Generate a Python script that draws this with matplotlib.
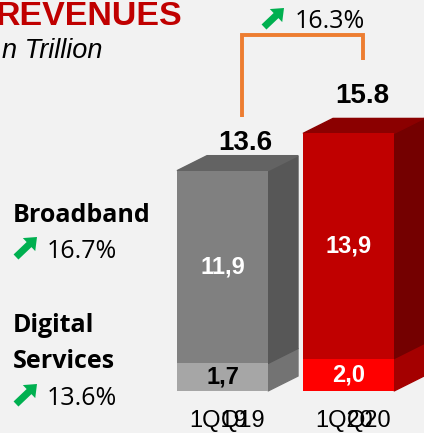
import matplotlib
matplotlib.use("Agg")
import matplotlib.pyplot as plt
import matplotlib.patches as mpatches

# --- data ---
periods = ["1Q19", "1Q20"]
digital = [1.7, 2.0]
broadband = [11.9, 13.9]
totals = ["13.6", "15.8"]
seg_labels_bottom = ["1,7", "2,0"]
seg_labels_top = ["11,9", "13,9"]
growth_total = "16.3%"
growth_broadband = "16.7%"
growth_digital = "13.6%"

BG = "#f2f2f2"
W, H = 424, 433
PX_PER_UNIT = 16.2
ZERO_PX = 391  # pixel row (from top) of value 0

fig = plt.figure(figsize=(W / 100, H / 100), dpi=100, facecolor=BG)

# value axes for the bars
ax = fig.add_axes([0, 0, 1, 1])
ax.set_facecolor(BG)
ax.set_xlim(0, W)
ax.set_ylim(-(H - ZERO_PX) / PX_PER_UNIT, ZERO_PX / PX_PER_UNIT)
ax.axis("off")

# pixel overlay for free text
ov = fig.add_axes([0, 0, 1, 1])
ov.set_xlim(0, W)
ov.set_ylim(H, 0)
ov.axis("off")
ov.patch.set_alpha(0)

centers = [222.5, 348.5]
width = 91
dx = 30
dy = 15 / PX_PER_UNIT

styles = [
    # front bottom, side bottom, front top, side top, top face, bottom label colour
    dict(fb="#a6a6a6", sb="#737373", ft="#808080", st="#575757", tp="#636363", lb="black"),
    dict(fb="#ff0000", sb="#a40000", ft="#c00000", st="#740000", tp="#8b0000", lb="white"),
]

for i, c in enumerate(centers):
    s = styles[i]
    xl, xr = c - width / 2, c + width / 2
    b0, b1 = 0, digital[i]
    t1 = digital[i] + broadband[i]
    ax.bar(c, digital[i], width=width, bottom=0, color=s["fb"], zorder=3)
    ax.bar(c, broadband[i], width=width, bottom=digital[i], color=s["ft"], zorder=3)
    # side faces
    ax.add_patch(mpatches.Polygon([(xr, b0), (xr + dx, b0 + dy), (xr + dx, b1 + dy), (xr, b1)],
                                  closed=True, color=s["sb"], zorder=2))
    ax.add_patch(mpatches.Polygon([(xr, b1), (xr + dx, b1 + dy), (xr + dx, t1 + dy), (xr, t1)],
                                  closed=True, color=s["st"], zorder=2))
    # top face
    ax.add_patch(mpatches.Polygon([(xl, t1), (xl + dx, t1 + dy), (xr + dx, t1 + dy), (xr, t1)],
                                  closed=True, color=s["tp"], zorder=2))
    # segment labels
    ax.text(c, digital[i] / 2, seg_labels_bottom[i], ha="center", va="center",
            fontsize=17, fontweight="bold", color=s["lb"], family="Liberation Sans", zorder=5)
    ax.text(c, digital[i] + broadband[i] / 2, seg_labels_top[i], ha="center", va="center",
            fontsize=17, fontweight="bold", color="white", family="Liberation Sans", zorder=5)

# totals above bars
ov.text(245, 150, totals[0], ha="center", va="baseline", fontsize=20,
        fontweight="bold", family="Liberation Sans")
ov.text(362, 103, totals[1], ha="center", va="baseline", fontsize=20,
        fontweight="bold", family="Liberation Sans")

# x labels (overlapping, as in the source)
ov.text(189, 427, periods[0], ha="left", va="baseline", fontsize=17, family="Liberation Sans")
ov.text(265, 427, periods[0][1:], ha="right", va="baseline", fontsize=17, family="Liberation Sans")
ov.text(315, 427, periods[1], ha="left", va="baseline", fontsize=17, family="Liberation Sans")
ov.text(392, 427, periods[1][1:], ha="right", va="baseline", fontsize=17, family="Liberation Sans")

# growth bracket
ov.plot([242, 242, 363, 363], [117, 35, 35, 60], color="#ed7d31", lw=2.8,
        solid_joinstyle="miter", solid_capstyle="butt")


def up_arrow(x0, y0, x1, y1):
    ov.add_patch(mpatches.FancyArrow(x0, y0, x1 - x0, y1 - y0, width=7,
                                     head_width=18, head_length=11,
                                     length_includes_head=True, color="#00b050", lw=0))


up_arrow(264, 27, 284, 8)
ov.text(295, 28, growth_total, ha="left", va="baseline", fontsize=18, family="Open Sans")

# titles
ov.text(183, 25, "REVENUES", ha="right", va="baseline", fontsize=24.5,
        fontweight="bold", color="#c00000", family="Liberation Sans")
ov.text(103, 58, "n Trillion", ha="right", va="baseline", fontsize=19.5,
        style="italic", family="Liberation Sans")

# left legend text
ov.text(13, 222, "Broadband", ha="left", va="baseline", fontsize=18, fontweight="bold", family="Open Sans")
up_arrow(16, 257, 37, 237)
ov.text(47, 258, growth_broadband, ha="left", va="baseline", fontsize=18, family="Open Sans")
ov.text(13, 332, "Digital", ha="left", va="baseline", fontsize=18, fontweight="bold", family="Open Sans")
ov.text(13, 368, "Services", ha="left", va="baseline", fontsize=18, fontweight="bold", family="Open Sans")
up_arrow(16, 404, 37, 384)
ov.text(47, 405, growth_digital, ha="left", va="baseline", fontsize=18, family="Open Sans")

fig.savefig("out.png", dpi=100, facecolor=BG)
